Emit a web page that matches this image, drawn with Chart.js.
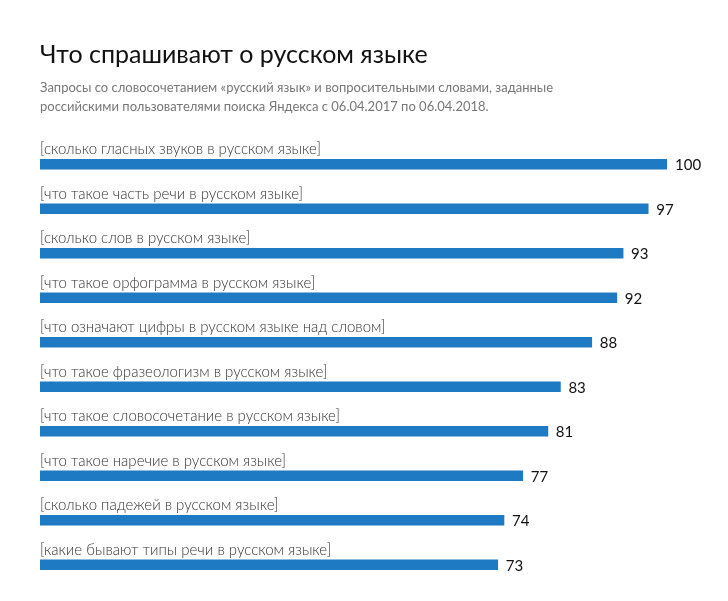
<!DOCTYPE html>
<html><head><meta charset="utf-8">
<script src="https://cdn.jsdelivr.net/npm/chart.js"></script>
<style>
  body { margin:0; background:#fff; font-family: Lato, "Open Sans", sans-serif; }
  #wrap { position:relative; width:728px; height:601px; }
  h1 { position:absolute; left:40px; top:38px; margin:0; font-weight:400; font-size:25px; color:#111; }
  p { position:absolute; left:40px; top:78px; margin:0; font-size:13px; line-height:19px; color:#777; width:660px; }
  canvas { position:absolute; left:0; top:0; }
</style></head>
<body><div id="wrap">
<canvas id="c" width="728" height="601"></canvas>
<h1>Что спрашивают о русском языке</h1>
<p>Запросы со словосочетанием «русский язык» и вопросительными словами, заданные<br>российскими пользователями поиска Яндекса с 06.04.2017 по 06.04.2018.</p>
</div>
<script>
const queries = [
  '[сколько гласных звуков в русском языке]',
  '[что такое часть речи в русском языке]',
  '[сколько слов в русском языке]',
  '[что такое орфограмма в русском языке]',
  '[что означают цифры в русском языке над словом]',
  '[что такое фразеологизм в русском языке]',
  '[что такое словосочетание в русском языке]',
  '[что такое наречие в русском языке]',
  '[сколько падежей в русском языке]',
  '[какие бывают типы речи в русском языке]'
];
const scores = [100, 97, 93, 92, 88, 83, 81, 77, 74, 73];

// labels above each bar, value to the right of it
const barText = {
  id: 'barText',
  afterDatasetsDraw(chart) {
    const ctx = chart.ctx;
    chart.getDatasetMeta(0).data.forEach((bar, i) => {
      ctx.save();
      ctx.fillStyle = '#333';
      ctx.font = '300 15px Lato, "Open Sans", sans-serif';
      ctx.textBaseline = 'alphabetic';
      ctx.fillText(queries[i], chart.chartArea.left, bar.y - 10);
      ctx.font = '400 15px Lato, "Open Sans", sans-serif';
      ctx.textBaseline = 'middle';
      ctx.fillStyle = '#111';
      ctx.fillText(scores[i], bar.x + 8, bar.y + 1);
      ctx.restore();
    });
  }
};

new Chart(document.getElementById('c'), {
  type: 'bar',
  data: { labels: queries, datasets: [{ data: scores, backgroundColor: '#1f7ac4', barThickness: 10 }] },
  options: {
    indexAxis: 'y',
    responsive: false,
    animation: false,
    layout: { padding: { left: 40, right: 61, top: 142, bottom: 14 } },
    scales: {
      x: { display: false, min: 0, max: 100 },
      y: { display: false }
    },
    plugins: { legend: { display: false }, tooltip: { enabled: false } }
  },
  plugins: [barText]
});
</script>
</body></html>
